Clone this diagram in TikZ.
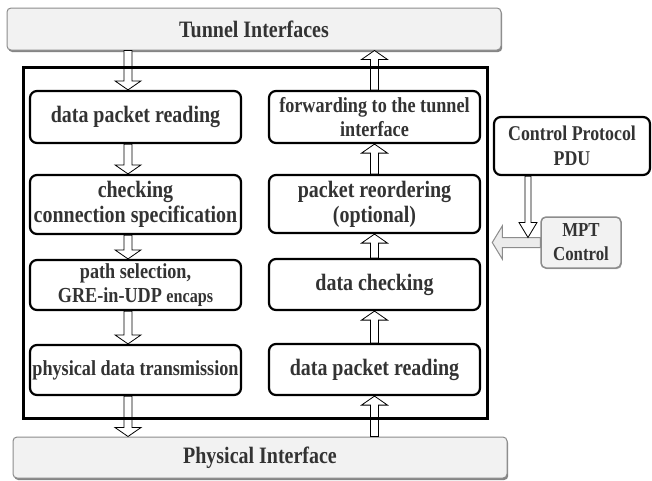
\documentclass[tikz,border=0pt]{standalone}
\usepackage{fontspec}
\setmainfont[FakeStretch=0.85]{Liberation Serif}
\usetikzlibrary{calc,shadows}

\tikzset{
  arrw/.store in=\arrw, arrh/.store in=\arrh, arrl/.store in=\arrl,
  arrw=4pt, arrh=13pt, arrl=9pt,
  blockarrow/.style={draw=black, fill=white, line width=.8pt,
    to path={let \p1=(\tikztostart), \p2=(\tikztotarget),
      \n1={atan2(\y2-\y1,\x2-\x1)}, \n2={veclen(\x2-\x1,\y2-\y1)} in
      ($(\p1)+({\n1+90}:{\arrw})$) -- ++({\n1}:{\n2-\arrl}) -- ++({\n1+90}:{\arrh-\arrw})
      -- (\p2) -- ($(\p2)+({\n1+180}:{\arrl})+({\n1-90}:{\arrh})$) -- ++({\n1+90}:{\arrh-\arrw})
      -- ($(\p1)+({\n1-90}:{\arrw})$) -- cycle}}
}

\begin{document}
\begin{tikzpicture}[x=1pt,y=-1pt,
  every node/.style={text=black!80, inner sep=0pt, align=center},
  iface/.style={draw=gray!90, line width=1pt, fill=gray!10, rounded corners=4pt,
    drop shadow={shadow xshift=1.2pt, shadow yshift=-2pt, fill=black!60, opacity=.8},
    minimum width=494pt, minimum height=42pt, font=\bfseries\fontsize{23.5}{25}\selectfont},
  stage/.style={draw=black, line width=2.2pt, rounded corners=7pt, fill=white,
    minimum width=211pt, font=\bfseries\fontsize{23.5}{25}\selectfont},
  small/.style={font=\bfseries\fontsize{21.4}{23.5}\selectfont}]
 \useasboundingbox (0,0) rectangle (652,480);
 % interfaces
 \node[iface] (tun) at (254,29) {Tunnel Interfaces};
 \node[iface,minimum height=41pt] (phy) at (260,457.5) {Physical Interface};
 % sending side
 \node[stage,minimum height=52pt] (l1) at (135.5,117) {data packet reading};
 \node[stage,minimum height=59pt] (l2) at (135.5,204.5) {checking\\connection specification};
 \node[stage,small,minimum height=50pt] (l3) at (135.5,285)
      {path selection,\\GRE-in-UDP {\fontsize{19}{23.5}\selectfont encaps}};
 \node[stage,small,minimum height=50pt] (l4) at (135.5,370) {physical data transmission};
 % receiving side
 \node[stage,small,minimum height=52pt] (r1) at (374.5,117) {forwarding to the tunnel\\interface};
 \node[stage,minimum height=58pt] (r2) at (374.5,204) {packet reordering\\(optional)};
 \node[stage,minimum height=51pt] (r3) at (374.5,284.5) {data checking};
 \node[stage,minimum height=51pt] (r4) at (374.5,369.5) {data packet reading};
 % control
 \node[stage,minimum width=156pt,minimum height=58pt,font=\bfseries\fontsize{21}{25}\selectfont]
      (pdu) at (572,146) {Control Protocol\\PDU};
 \node[draw=gray!90,line width=1.5pt,fill=gray!10,rounded corners=5pt,
      drop shadow={shadow xshift=.8pt, shadow yshift=-1.2pt, fill=black!50, opacity=.6},
      minimum width=80pt,minimum height=51pt,font=\bfseries\fontsize{19.8}{24}\selectfont]
      (mpt) at (581,242.5) {MPT\\Control};
 % arrows down
 \coordinate (lx) at (128,0);
 \draw[blockarrow] (tun.south -| lx) to (l1.north -| lx);
 \draw[blockarrow] (l1.south -| lx) to (l2.north -| lx);
 \draw[blockarrow] (l2.south -| lx) to (l3.north -| lx);
 \draw[blockarrow] (l3.south -| lx) to (l4.north -| lx);
 \draw[blockarrow] (l4.south -| lx) to (phy.north -| lx);
 % arrows up
 \draw[blockarrow] (phy.north -| r4.south) to (r4.south);
 \draw[blockarrow] (r4.north) to (r3.south);
 \draw[blockarrow] (r3.north) to (r2.south);
 \draw[blockarrow] (r2.north) to (r1.south);
 \draw[blockarrow] (r1.north) to (tun.south -| r1.north);
 % control arrows
 \coordinate (ctip) at (528,237.5);
 \draw[blockarrow,draw=gray!90,fill=gray!15,line width=1pt,arrw=5pt,arrh=16.5pt,arrl=10pt]
      (mpt.west) to ([xshift=-48pt]mpt.west);
 \draw[blockarrow,arrw=3pt,arrh=9pt,arrl=15pt] (pdu.south -| ctip) to (ctip);
 % frame
 \node[draw=black,line width=3pt,minimum width=464pt,minimum height=351pt] (core) at (255,242.5) {};
\end{tikzpicture}
\end{document}
